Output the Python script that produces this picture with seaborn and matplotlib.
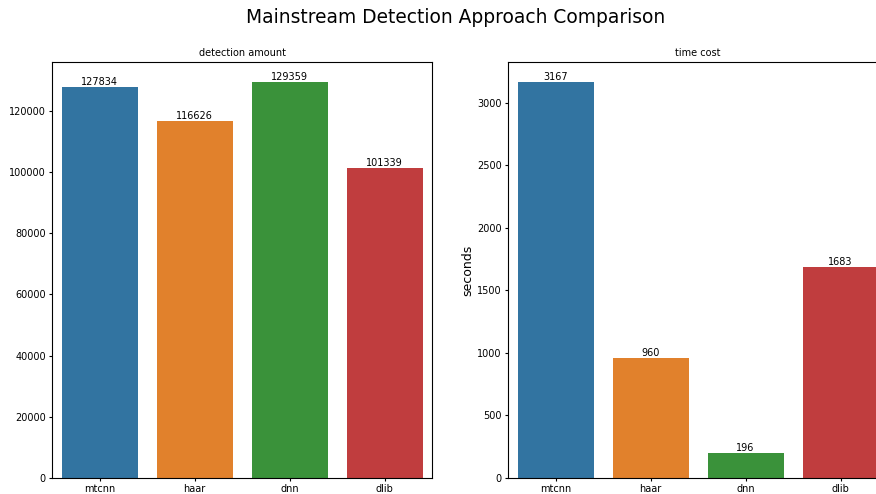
import matplotlib
matplotlib.use('Agg')
import matplotlib.pyplot as plt
import seaborn as sns
import pandas as pd

# data
methods = ['mtcnn', 'haar', 'dnn', 'dlib']
detections = [127834, 116626, 129359, 101339]
seconds = [3167, 960, 196, 1683]

df = pd.DataFrame({'method': methods, 'detections': detections, 'seconds': seconds})

fig = plt.figure(figsize=(8.76, 4.94), dpi=100)
# right panel runs off the right edge, as in the reference
ax1 = fig.add_axes([0.0594, 0.0324, 0.4338, 0.842])
ax2 = fig.add_axes([0.580, 0.0324, 0.4338, 0.842])

sns.barplot(data=df, x='method', y='detections', hue='method', legend=False, ax=ax1)
sns.barplot(data=df, x='method', y='seconds', hue='method', legend=False, ax=ax2)

for ax, title in [(ax1, 'detection amount'), (ax2, 'time cost')]:
    ax.set_title(title, fontsize=7, pad=4)
    ax.set_xlabel('')
    ax.tick_params(labelsize=7, length=2.5, pad=2)
    for c in ax.containers:
        ax.bar_label(c, fontsize=7, padding=0)

ax1.set_ylabel('')
ax2.set_ylabel('seconds', fontsize=9, labelpad=2)

# title is centred on the original (wider) figure, so sits a bit right of centre
fig.suptitle('Mainstream Detection Approach Comparison', fontsize=13.4, x=0.5205, y=0.983)

fig.savefig('out.png', dpi=100)
